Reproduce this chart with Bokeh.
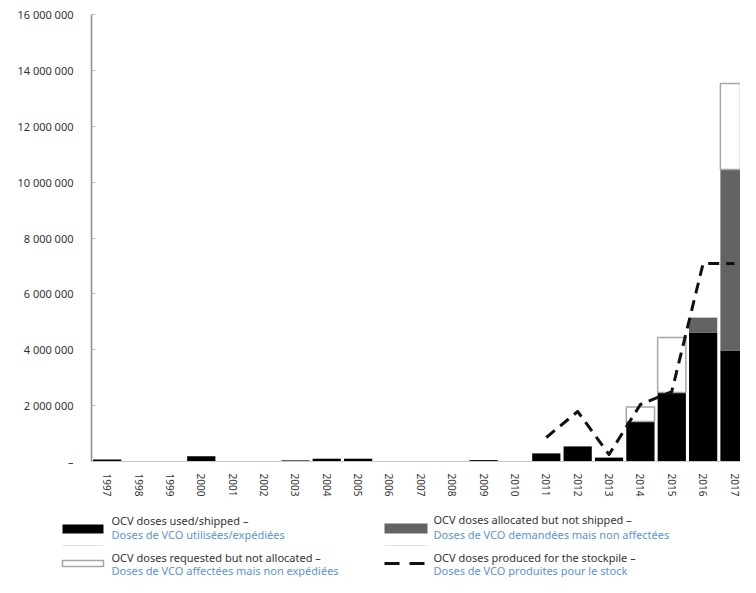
from bokeh.plotting import figure
from bokeh.models import Range1d, FixedTicker
from bokeh.core.properties import value
from bokeh.embed import file_html
from bokeh.resources import INLINE

# ---------------- data ----------------
years = [1997, 1998, 1999, 2000, 2001, 2002, 2003, 2004, 2005, 2006, 2007,
         2008, 2009, 2010, 2011, 2012, 2013, 2014, 2015, 2016, 2017]
used_shipped = [70000, 0, 0, 190000, 0, 0, 40000, 100000, 100000, 0, 0,
                0, 50000, 0, 290000, 540000, 140000, 1430000, 2470000, 4620000, 3970000]
allocated_not_shipped = [0, 0, 0, 0, 0, 0, 0, 0, 0, 0, 0,
                         0, 0, 0, 0, 0, 0, 0, 0, 530000, 6480000]
requested_not_allocated = [0, 0, 0, 0, 0, 0, 0, 0, 0, 0, 0,
                           0, 0, 0, 0, 0, 0, 520000, 1970000, 0, 3080000]
stock_years = [2011, 2012, 2013, 2014, 2015, 2016, 2017]
stockpile = [860000, 1790000, 250000, 2040000, 2500000, 7090000, 7090000]

ytick_values = [0, 2000000, 4000000, 6000000, 8000000, 10000000, 12000000, 14000000, 16000000]
ytick_labels = ["–", "2 000 000", "4 000 000", "6 000 000", "8 000 000",
                "10 000 000", "12 000 000", "14 000 000", "16 000 000"]

legend_en = ["OCV doses used/shipped –",
             "OCV doses allocated but not shipped –",
             "OCV doses requested but not allocated –",
             "OCV doses produced for the stockpile –"]
legend_fr = ["Doses de VCO utilisées/expédiées",
             "Doses de VCO demandées mais non affectées",
             "Doses de VCO affectées mais non expédiées",
             "Doses de VCO produites pour le stock"]

FONT = "Noto Sans"
BLACK = "#000000"
GREY = "#636363"
OUTLINE = "#a6a6a6"
BLUE = "#5b95d3"
TXT = "#333333"

# ---------------- geometry (picture pixels) ----------------
W, H = 740, 577
CAN_L, CAN_T = 1, 1                 # where the canvas lands in the picture
CAN_R, CAN_B = CAN_L + W, CAN_T + H
AXIS_X = 92                          # picture x of the y axis
ZERO_Y, TOP_Y = 462, 15              # picture y of value 0 and of YMAX
YMAX = 16000000
X0 = 1996.5                          # data x at the y axis
X_END_PX, X_END = 735, 2017          # picture x of the last category centre
ppx = (X_END_PX - AXIS_X) / (X_END - X0)
ppy = (ZERO_Y - TOP_Y) / YMAX

x_start = X0 - (AXIS_X - CAN_L) / ppx
x_end = X0 + (CAN_R - AXIS_X) / ppx
y_start = -(CAN_B - ZERO_Y) / ppy
y_end = YMAX + (TOP_Y - CAN_T) / ppy

p = figure(width=W, height=H, output_backend="svg", toolbar_location=None,
           x_range=Range1d(x_start, x_end), y_range=Range1d(y_start, y_end),
           min_border_left=0, min_border_right=0, min_border_top=0, min_border_bottom=0)
p.extra_x_ranges = {"lx": Range1d(CAN_L, CAN_R)}
p.extra_y_ranges = {"ly": Range1d(CAN_B, CAN_T)}
p.outline_line_color = None
p.xgrid.visible = False
p.ygrid.visible = False
p.background_fill_color = "white"
p.border_fill_color = "white"

# stacked segments (only non-zero ones so empty segments draw nothing)
b1_x, b1_b, b1_t = [], [], []
b2_x, b2_b, b2_t = [], [], []
b3_x, b3_b, b3_t = [], [], []
for yr, u, a, r in zip(years, used_shipped, allocated_not_shipped, requested_not_allocated):
    if u > 0:
        b1_x.append(yr); b1_b.append(0); b1_t.append(u)
    if a > 0:
        b2_x.append(yr); b2_b.append(u); b2_t.append(u + a)
    if r > 0:
        b3_x.append(yr); b3_b.append(u + a); b3_t.append(u + a + r)

BW = 0.9
p.vbar(x=b1_x, bottom=b1_b, top=b1_t, width=BW, fill_color=BLACK, line_color=None)
p.vbar(x=b2_x, bottom=b2_b, top=b2_t, width=BW, fill_color=GREY, line_color=None)
p.vbar(x=b3_x, bottom=b3_b, top=b3_t, width=BW, fill_color="white",
       line_color=OUTLINE, line_width=1.5)

p.line(stock_years, stockpile, line_color="#111111", line_width=3,
       line_dash="11 7", line_join="round")

# y axis, drawn at X0
ya = p.yaxis[0]
ya.fixed_location = X0
ya.ticker = FixedTicker(ticks=ytick_values)
ya.bounds = (0, YMAX)
ya.major_label_overrides = {v: s for v, s in zip(ytick_values, ytick_labels)}
ya.axis_line_color = "#8c8c8c"
ya.axis_line_width = 1.5
ya.major_tick_in = 4
ya.major_tick_out = 0
ya.major_tick_line_color = "#bbbbbb"
ya.minor_tick_line_color = None
ya.major_label_standoff = 18
ya.major_label_text_font = FONT
ya.major_label_text_font_size = "11px"
ya.major_label_text_color = TXT

# x axis, drawn at value 0
xa = p.xaxis[0]
xa.fixed_location = 0
xa.bounds = (X0, x_end)
xa.ticker = FixedTicker(ticks=years)
xa.major_label_overrides = {y: str(y) for y in years}
xa.major_label_orientation = "vertical"
xa.axis_line_color = "#c8c8c8"
xa.axis_line_width = 1
xa.major_tick_line_color = None
xa.minor_tick_line_color = None
xa.major_label_standoff = 6
xa.major_label_text_font = FONT
xa.major_label_text_font_size = "10px"
xa.major_label_text_color = TXT

# ---------------- legend (picture-pixel ranges) ----------------
kw = dict(x_range_name="lx", y_range_name="ly")
p.quad(left=[63], right=[104], top=[525], bottom=[534], fill_color=BLACK, line_color=None, **kw)
p.quad(left=[385], right=[428], top=[524], bottom=[534], fill_color=GREY, line_color=None, **kw)
p.quad(left=[63], right=[104], top=[561], bottom=[567], fill_color="white",
       line_color=OUTLINE, line_width=1.5, **kw)
p.line(x=[385, 428], y=[564, 564], line_color="#111111", line_width=3, line_dash="15 10", **kw)
p.segment(x0=[63, 385], y0=[546, 546], x1=[104, 428], y1=[546, 546],
          line_color="#e2e2e2", line_width=1, **kw)

tx = [112, 434, 112, 434]
ty1 = [521, 520, 558, 558]
ty2 = [535, 535, 571, 571]
p.text(x=tx, y=ty1, text=legend_en, text_font=value(FONT), text_font_size="11px",
       text_color=TXT, text_baseline="middle", text_align="left", **kw)
p.text(x=tx, y=ty2, text=legend_fr, text_font=value(FONT), text_font_size="11px",
       text_color=BLUE, text_baseline="middle", text_align="left", **kw)

open("out.html", "w").write(file_html(p, INLINE))
